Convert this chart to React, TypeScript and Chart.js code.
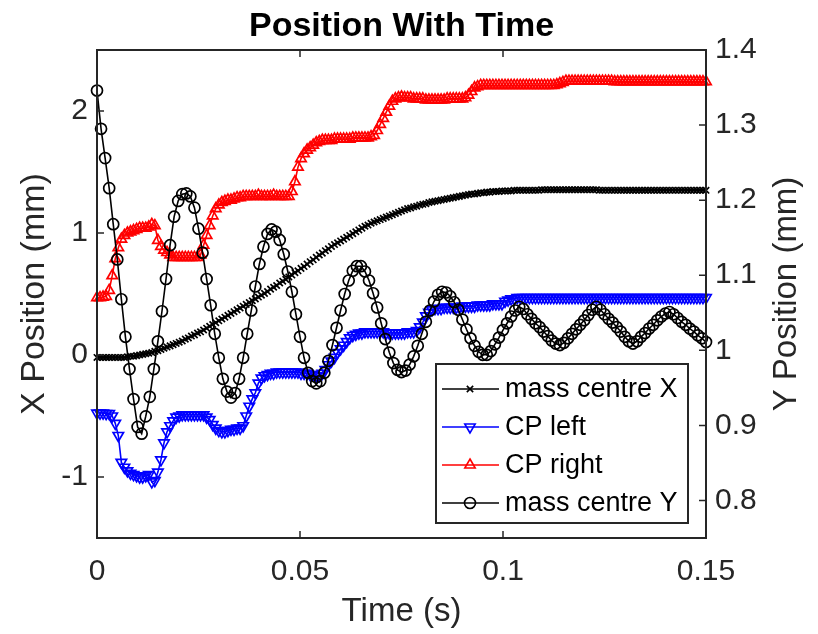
import React, { useEffect, useRef } from "react";
import Chart from "chart.js/auto";

// ---------------- data ----------------
const DT_FAST = 0.00075; // sample step (s) of CP left / CP right / mass centre X
const DT_Y = 0.001; // sample step (s) of mass centre Y

const X_TICKS = [0, 0.05, 0.1, 0.15];
const X_TICK_LABELS = ["0", "0.05", "0.1", "0.15"];
const LEFT_TICKS = [-1, 0, 1, 2];
const LEFT_TICK_LABELS = ["-1", "0", "1", "2"];
const RIGHT_TICKS = [0.8, 0.9, 1.0, 1.1, 1.2, 1.3, 1.4];
const RIGHT_TICK_LABELS = ["0.8", "0.9", "1", "1.1", "1.2", "1.3", "1.4"];

const TITLE = "Position With Time";
const X_TITLE = "Time (s)";
const LEFT_TITLE = "X Position (mm)";
const RIGHT_TITLE = "Y Position (mm)";
const SERIES_NAMES = ["mass centre X", "CP left", "CP right", "mass centre Y"];

const MASS_CENTRE_X = [
  -0.02, -0.02, -0.02, -0.02, -0.02, -0.02, -0.02, -0.02, -0.02, -0.02,
  -0.015, -0.01, -0.01, -0.005, 0.0, 0.005, 0.01, 0.015, 0.02, 0.03,
  0.035, 0.045, 0.055, 0.065, 0.075, 0.085, 0.095, 0.105, 0.115, 0.13,
  0.14, 0.155, 0.165, 0.18, 0.19, 0.205, 0.22, 0.235, 0.25, 0.265,
  0.28, 0.295, 0.31, 0.325, 0.34, 0.355, 0.37, 0.385, 0.4, 0.415,
  0.43, 0.445, 0.46, 0.475, 0.49, 0.505, 0.52, 0.54, 0.555, 0.57,
  0.59, 0.605, 0.62, 0.64, 0.655, 0.675, 0.69, 0.71, 0.725, 0.745,
  0.765, 0.78, 0.8, 0.82, 0.835, 0.855, 0.87, 0.89, 0.905, 0.92,
  0.935, 0.95, 0.965, 0.98, 0.995, 1.01, 1.025, 1.04, 1.055, 1.065,
  1.08, 1.09, 1.1, 1.11, 1.12, 1.13, 1.14, 1.15, 1.16, 1.17,
  1.18, 1.19, 1.2, 1.205, 1.215, 1.22, 1.23, 1.235, 1.24, 1.25,
  1.255, 1.26, 1.265, 1.27, 1.275, 1.28, 1.285, 1.29, 1.295, 1.3,
  1.305, 1.31, 1.315, 1.32, 1.32, 1.325, 1.33, 1.33, 1.335, 1.335,
  1.34, 1.34, 1.34, 1.345, 1.345, 1.345, 1.345, 1.35, 1.35, 1.35,
  1.35, 1.35, 1.35, 1.35, 1.35, 1.35, 1.355, 1.355, 1.355, 1.355,
  1.355, 1.355, 1.355, 1.355, 1.355, 1.355, 1.355, 1.355, 1.355, 1.355,
  1.355, 1.355, 1.355, 1.355, 1.355, 1.35, 1.35, 1.35, 1.35, 1.35,
  1.35, 1.35, 1.35, 1.35, 1.35, 1.35, 1.35, 1.35, 1.35, 1.35,
  1.35, 1.35, 1.35, 1.35, 1.35, 1.35, 1.35, 1.35, 1.35, 1.35,
  1.35, 1.35, 1.35, 1.35, 1.35, 1.35, 1.35, 1.35, 1.35, 1.35,
  1.35,
];

const CP_LEFT = [
  -0.476, -0.476, -0.476, -0.48, -0.48, -0.5, -0.56, -0.66, -0.88, -0.92,
  -0.95, -0.97, -0.98, -0.99, -1.0, -1.0, -0.99, -0.98, -1.04, -1.03,
  -0.96, -0.86, -0.72, -0.63, -0.58, -0.54, -0.51, -0.5, -0.49, -0.49,
  -0.49, -0.49, -0.49, -0.49, -0.49, -0.49, -0.51, -0.53, -0.57, -0.6,
  -0.62, -0.63, -0.63, -0.62, -0.61, -0.61, -0.6, -0.6, -0.58, -0.5,
  -0.42, -0.36, -0.31, -0.23, -0.19, -0.17, -0.16, -0.15, -0.15, -0.14,
  -0.14, -0.14, -0.14, -0.14, -0.14, -0.14, -0.14, -0.15, -0.15, -0.15,
  -0.16, -0.16, -0.17, -0.17, -0.15, -0.12, -0.08, -0.05, -0.02, 0.02,
  0.05, 0.08, 0.11, 0.14, 0.16, 0.17, 0.18, 0.18, 0.19, 0.19,
  0.19, 0.19, 0.19, 0.19, 0.19, 0.18, 0.18, 0.18, 0.18, 0.18,
  0.18, 0.18, 0.19, 0.19, 0.19, 0.2, 0.23, 0.27, 0.32, 0.35,
  0.37, 0.38, 0.38, 0.38, 0.39, 0.39, 0.39, 0.39, 0.39, 0.39,
  0.4, 0.4, 0.4, 0.4, 0.4, 0.41, 0.41, 0.41, 0.41, 0.41,
  0.42, 0.42, 0.42, 0.42, 0.44, 0.45, 0.46, 0.46, 0.47, 0.47,
  0.47, 0.47, 0.47, 0.47, 0.47, 0.47, 0.47, 0.47, 0.47, 0.47,
  0.47, 0.47, 0.47, 0.47, 0.47, 0.47, 0.47, 0.47, 0.47, 0.47,
  0.47, 0.47, 0.47, 0.47, 0.47, 0.47, 0.47, 0.47, 0.47, 0.47,
  0.47, 0.47, 0.47, 0.47, 0.47, 0.47, 0.47, 0.47, 0.47, 0.47,
  0.47, 0.47, 0.47, 0.47, 0.47, 0.47, 0.47, 0.47, 0.47, 0.47,
  0.47, 0.47, 0.47, 0.47, 0.47, 0.47, 0.47, 0.47, 0.47, 0.47,
  0.47,
];

const CP_RIGHT = [
  0.47, 0.47, 0.475, 0.48, 0.53, 0.65, 0.79, 0.88, 0.95, 0.98,
  1.0, 1.01, 1.02, 1.03, 1.04, 1.04, 1.04, 1.05, 1.07, 1.06,
  0.94, 0.89, 0.86, 0.84, 0.82, 0.8, 0.8, 0.8, 0.8, 0.8,
  0.8, 0.8, 0.8, 0.8, 0.82, 0.9, 0.98, 1.06, 1.14, 1.2,
  1.23, 1.25, 1.26, 1.27, 1.27, 1.28, 1.29, 1.29, 1.3, 1.3,
  1.3, 1.3, 1.3, 1.31, 1.3, 1.3, 1.3, 1.3, 1.31, 1.3,
  1.3, 1.3, 1.3, 1.3, 1.34, 1.42, 1.54, 1.61, 1.65, 1.68,
  1.7, 1.72, 1.74, 1.75, 1.76, 1.76, 1.76, 1.76, 1.77, 1.77,
  1.77, 1.77, 1.77, 1.77, 1.78, 1.78, 1.78, 1.78, 1.78, 1.78,
  1.79, 1.8, 1.84, 1.89, 1.94, 1.99, 2.04, 2.08, 2.1, 2.11,
  2.115, 2.11, 2.11, 2.11, 2.1, 2.1, 2.1, 2.1, 2.09, 2.09,
  2.09, 2.09, 2.09, 2.09, 2.09, 2.1, 2.1, 2.1, 2.1, 2.1,
  2.1, 2.11, 2.13, 2.16, 2.19, 2.2, 2.21, 2.21, 2.21, 2.21,
  2.21, 2.21, 2.21, 2.21, 2.21, 2.21, 2.21, 2.21, 2.21, 2.21,
  2.21, 2.21, 2.21, 2.21, 2.21, 2.21, 2.21, 2.21, 2.21, 2.21,
  2.21, 2.215, 2.225, 2.235, 2.245, 2.245, 2.245, 2.245, 2.245, 2.245,
  2.245, 2.245, 2.245, 2.245, 2.245, 2.245, 2.245, 2.245, 2.245, 2.245,
  2.24, 2.24, 2.24, 2.24, 2.24, 2.24, 2.24, 2.24, 2.24, 2.24,
  2.24, 2.24, 2.24, 2.24, 2.24, 2.24, 2.24, 2.24, 2.24, 2.24,
  2.24, 2.24, 2.24, 2.24, 2.24, 2.24, 2.24, 2.24, 2.24, 2.24,
  2.24,
];

const MASS_CENTRE_Y = [
  1.346, 1.295, 1.256, 1.216, 1.168, 1.121, 1.068, 1.018, 0.975, 0.935,
  0.898, 0.889, 0.912, 0.938, 0.975, 1.012, 1.052, 1.095, 1.14, 1.178,
  1.199, 1.208, 1.209, 1.205, 1.19, 1.162, 1.13, 1.095, 1.06, 1.022,
  0.99, 0.962, 0.945, 0.937, 0.943, 0.962, 0.99, 1.022, 1.053, 1.085,
  1.115, 1.138, 1.155, 1.161, 1.158, 1.147, 1.128, 1.105, 1.078, 1.048,
  1.018, 0.99, 0.97, 0.959, 0.956, 0.959, 0.97, 0.986, 1.007, 1.03,
  1.053, 1.075, 1.093, 1.106, 1.112, 1.112, 1.105, 1.093, 1.076, 1.057,
  1.036, 1.015, 0.997, 0.983, 0.974, 0.971, 0.973, 0.981, 0.992, 1.006,
  1.022, 1.038, 1.053, 1.065, 1.074, 1.078, 1.077, 1.072, 1.064, 1.054,
  1.041, 1.028, 1.016, 1.006, 0.998, 0.994, 0.994, 0.999, 1.008, 1.017,
  1.027, 1.036, 1.045, 1.053, 1.058, 1.055, 1.048, 1.042, 1.036, 1.031,
  1.025, 1.019, 1.013, 1.009, 1.007, 1.01, 1.016, 1.022, 1.028, 1.034,
  1.04, 1.047, 1.054, 1.058, 1.054, 1.048, 1.042, 1.037, 1.031, 1.025,
  1.018, 1.012, 1.009, 1.012, 1.018, 1.023, 1.029, 1.034, 1.04, 1.045,
  1.049, 1.051, 1.048, 1.043, 1.038, 1.034, 1.029, 1.025, 1.02, 1.016,
  1.011,
];

// ---------------- styling ----------------
const FONT = "'Liberation Sans', Arial, Helvetica, sans-serif";
const AXIS_COLOR = "#262626";
const COLORS = ["#000000", "#0000ff", "#ff0000", "#000000"];
const STYLES: any[] = [
  { pointStyle: "crossRot", radius: 4.5, rotation: 0 },
  { pointStyle: "triangle", radius: 6, rotation: 180 },
  { pointStyle: "triangle", radius: 6, rotation: 0 },
  { pointStyle: "circle", radius: 5.5, rotation: 0 },
];

function toPoints(values: number[], dt: number) {
  return values.map((v, i) => ({ x: i * dt, y: v }));
}

function drawMarker(ctx: CanvasRenderingContext2D, style: any, x: number, y: number) {
  const r = style.radius;
  ctx.beginPath();
  if (style.pointStyle === "circle") {
    ctx.arc(x, y, r, 0, Math.PI * 2);
  } else if (style.pointStyle === "crossRot") {
    const o = r * Math.SQRT1_2;
    ctx.moveTo(x - o, y - o);
    ctx.lineTo(x + o, y + o);
    ctx.moveTo(x + o, y - o);
    ctx.lineTo(x - o, y + o);
  } else {
    let rad = (style.rotation * Math.PI) / 180;
    ctx.moveTo(x + Math.sin(rad) * r, y - Math.cos(rad) * r);
    rad += (2 * Math.PI) / 3;
    ctx.lineTo(x + Math.sin(rad) * r, y - Math.cos(rad) * r);
    rad += (2 * Math.PI) / 3;
    ctx.lineTo(x + Math.sin(rad) * r, y - Math.cos(rad) * r);
    ctx.closePath();
  }
  ctx.stroke();
}

const axesPlugin = {
  id: "matlabAxes",
  afterDatasetsDraw(chart: any) {
    const { ctx, chartArea: a, scales } = chart;
    ctx.save();
    ctx.strokeStyle = AXIS_COLOR;
    ctx.lineWidth = 2;
    ctx.beginPath();
    ctx.rect(a.left, a.top, a.right - a.left, a.bottom - a.top);
    ctx.stroke();
    const TL = 7;
    ctx.lineWidth = 1.5;
    ctx.beginPath();
    X_TICKS.forEach((v) => {
      const px = scales.x.getPixelForValue(v);
      ctx.moveTo(px, a.bottom);
      ctx.lineTo(px, a.bottom - TL);
      ctx.moveTo(px, a.top);
      ctx.lineTo(px, a.top + TL);
    });
    LEFT_TICKS.forEach((v) => {
      const py = scales.yL.getPixelForValue(v);
      ctx.moveTo(a.left, py);
      ctx.lineTo(a.left + TL, py);
    });
    RIGHT_TICKS.forEach((v) => {
      const py = scales.yR.getPixelForValue(v);
      ctx.moveTo(a.right, py);
      ctx.lineTo(a.right - TL, py);
    });
    ctx.stroke();

    // right-axis title, reading bottom-to-top as in the reference
    ctx.fillStyle = AXIS_COLOR;
    ctx.font = `33px ${FONT}`;
    ctx.textAlign = "center";
    ctx.textBaseline = "middle";
    ctx.translate(chart.width - 31, (a.top + a.bottom) / 2);
    ctx.rotate(-Math.PI / 2);
    ctx.fillText(RIGHT_TITLE, 0, 0);
    ctx.restore();
  },
};

const legendPlugin = {
  id: "matlabLegend",
  afterDraw(chart: any) {
    const { ctx, chartArea: a } = chart;
    const right = a.right - 18;
    const bottom = a.bottom - 15;
    const w = 252;
    const h = 159;
    const left = right - w;
    const top = bottom - h;
    ctx.save();
    ctx.fillStyle = "#ffffff";
    ctx.fillRect(left, top, w, h);
    ctx.strokeStyle = AXIS_COLOR;
    ctx.lineWidth = 2;
    ctx.strokeRect(left, top, w, h);
    const rowH = 38;
    const firstRow = top + 25;
    ctx.font = `27px ${FONT}`;
    ctx.textBaseline = "middle";
    ctx.textAlign = "left";
    SERIES_NAMES.forEach((name, i) => {
      const y = firstRow + i * rowH;
      ctx.strokeStyle = COLORS[i];
      ctx.lineWidth = 1.6;
      ctx.beginPath();
      ctx.moveTo(left + 6, y);
      ctx.lineTo(left + 63, y);
      ctx.stroke();
      ctx.lineWidth = 1.6;
      drawMarker(ctx, STYLES[i], left + 34, y);
      ctx.fillStyle = "#000000";
      ctx.fillText(name, left + 69, y + 1);
    });
    ctx.restore();
  },
};

export default function App() {
  const ref = useRef<HTMLCanvasElement>(null);
  useEffect(() => {
    const seriesValues = [MASS_CENTRE_X, CP_LEFT, CP_RIGHT, MASS_CENTRE_Y];
    const steps = [DT_FAST, DT_FAST, DT_FAST, DT_Y];
    const axes = ["yL", "yL", "yL", "yR"];
    const orders = [3, 2, 1, 0];
    const datasets = SERIES_NAMES.map((name, i) => ({
      label: name,
      data: toPoints(seriesValues[i], steps[i]),
      yAxisID: axes[i],
      order: orders[i],
      borderColor: COLORS[i],
      borderWidth: 1.6,
      pointStyle: STYLES[i].pointStyle,
      pointRadius: STYLES[i].radius,
      pointRotation: STYLES[i].rotation,
      pointBorderColor: COLORS[i],
      pointBackgroundColor: "rgba(0,0,0,0)",
      pointBorderWidth: 1.7,
      tension: 0,
      fill: false,
      clip: false as any,
    }));

    const tickFont = { size: 30, family: FONT };
    const titleFont = { size: 33, family: FONT };

    const chart = new Chart(ref.current!, {
      type: "line",
      data: { datasets },
      plugins: [axesPlugin, legendPlugin],
      options: {
        animation: false,
        responsive: false,
        events: [],
        layout: { padding: 0 },
        plugins: {
          legend: { display: false },
          tooltip: { enabled: false },
          title: {
            display: true,
            text: TITLE,
            fullSize: false,
            color: "#000000",
            font: { size: 34, weight: "bold", family: FONT },
            padding: { top: 6.5, bottom: 2.7 },
          },
        },
        scales: {
          x: {
            type: "linear",
            position: "bottom",
            min: 0,
            max: 0.15,
            afterBuildTicks: (s: any) => {
              s.ticks = X_TICKS.map((v) => ({ value: v }));
            },
            afterFit: (s: any) => {
              s.height = 96;
            },
            ticks: {
              autoSkip: false,
              maxRotation: 0,
              minRotation: 0,
              padding: 16,
              color: AXIS_COLOR,
              font: tickFont,
              callback: (v: any) => X_TICK_LABELS[X_TICKS.indexOf(Number(v))] ?? "",
            },
            grid: { display: false, drawTicks: false },
            border: { display: false },
            title: {
              display: true,
              text: X_TITLE,
              color: AXIS_COLOR,
              font: titleFont,
              padding: { top: 0, bottom: 2 },
            },
          },
          yL: {
            type: "linear",
            position: "left",
            min: -1.5,
            max: 2.5,
            afterBuildTicks: (s: any) => {
              s.ticks = LEFT_TICKS.map((v) => ({ value: v }));
            },
            afterFit: (s: any) => {
              s.width = 97;
            },
            ticks: {
              autoSkip: false,
              padding: 9,
              color: AXIS_COLOR,
              font: tickFont,
              callback: (v: any) => LEFT_TICK_LABELS[LEFT_TICKS.indexOf(Number(v))] ?? "",
            },
            grid: { display: false, drawTicks: false },
            border: { display: false },
            title: {
              display: true,
              text: LEFT_TITLE,
              color: AXIS_COLOR,
              font: { size: 34, family: FONT },
              padding: { top: 14, bottom: 0 },
            },
          },
          yR: {
            type: "linear",
            position: "right",
            min: 0.75,
            max: 1.4,
            afterBuildTicks: (s: any) => {
              s.ticks = RIGHT_TICKS.map((v) => ({ value: v }));
            },
            afterFit: (s: any) => {
              s.width = 112;
            },
            ticks: {
              autoSkip: false,
              padding: 9,
              color: AXIS_COLOR,
              font: tickFont,
              callback: (v: any) => {
                const k = RIGHT_TICKS.findIndex((t) => Math.abs(t - Number(v)) < 1e-9);
                return k >= 0 ? RIGHT_TICK_LABELS[k] : "";
              },
            },
            grid: { display: false, drawTicks: false },
            border: { display: false },
            title: { display: false },
          },
        },
      } as any,
    });
    return () => chart.destroy();
  }, []);

  return (
    <div style={{ position: "fixed", left: 0, top: 0, width: 818, height: 634, background: "#ffffff" }}>
      <canvas ref={ref} width={818} height={634} style={{ display: "block" }} />
    </div>
  );
}
